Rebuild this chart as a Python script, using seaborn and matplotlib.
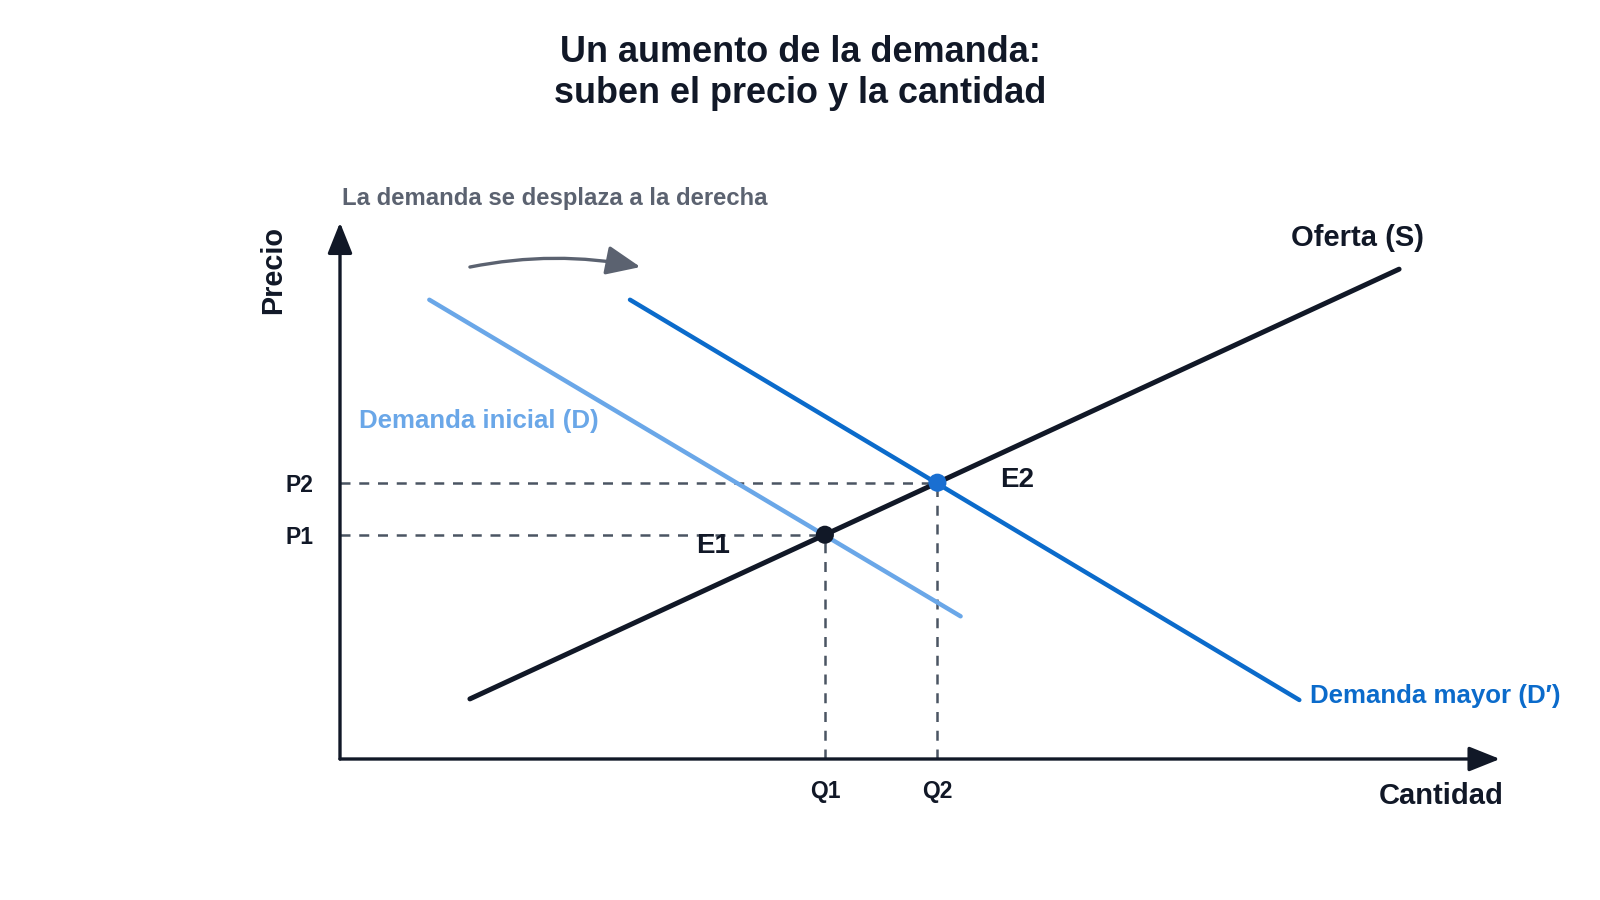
import matplotlib
matplotlib.use("Agg")
import matplotlib.pyplot as plt
import numpy as np
import pandas as pd
import seaborn as sns

# ---- data ----
title_text = "Un aumento de la demanda:\nsuben el precio y la cantidad"
shift_text = "La demanda se desplaza a la derecha"

supply_q = [1.12, 9.13]
supply_p = [1.12, 9.13]
demand_q = [0.77, 5.35]
demand_p = [8.56, 2.66]
demand2_q = [2.50, 8.27]
demand2_p = [8.56, 1.10]

eq_labels = ["E1", "E2"]
eq_q = [4.18, 5.15]
eq_p = [4.18, 5.15]
price_labels = ["P1", "P2"]
qty_labels = ["Q1", "Q2"]

# ---- style ----
sns.set_theme(style="white")
plt.rcParams["font.family"] = ["Liberation Sans", "DejaVu Sans"]
plt.rcParams["font.weight"] = "bold"

DARK = "#111827"
GRAY = "#5b6270"
DASH = "#4b5563"
LIGHT = "#6aa7e8"
BLUE = "#0b6bcb"
PT_BLUE = "#1a6fd1"

fig = plt.figure(figsize=(16, 9), dpi=100)
ax = fig.add_axes([340 / 1600, 141 / 900, 1160 / 1600, 536.5 / 900])
ax.set_xlim(0, 10)
ax.set_ylim(0, 10)
for s in ax.spines.values():
    s.set_visible(False)
ax.grid(False)

df_s = pd.DataFrame({"Cantidad": supply_q, "Precio": supply_p})
df_d = pd.DataFrame({"Cantidad": demand_q, "Precio": demand_p})
df_d2 = pd.DataFrame({"Cantidad": demand2_q, "Precio": demand2_p})

# dashed guides
for q, p in zip(eq_q, eq_p):
    ax.plot([0, q], [p, p], color=DASH, lw=1.8, ls=(0, (4, 3.5)), zorder=1)
    ax.plot([q, q], [0, p], color=DASH, lw=1.8, ls=(0, (4, 3.5)), zorder=1)

sns.lineplot(data=df_d, x="Cantidad", y="Precio", ax=ax, color=LIGHT, lw=3.2,
             sort=False, zorder=2)
sns.lineplot(data=df_d2, x="Cantidad", y="Precio", ax=ax, color=BLUE, lw=3.2,
             sort=False, zorder=2)
sns.lineplot(data=df_s, x="Cantidad", y="Precio", ax=ax, color=DARK, lw=3.6,
             sort=False, zorder=3)

df_e = pd.DataFrame({"Cantidad": eq_q, "Precio": eq_p, "E": eq_labels})
sns.scatterplot(data=df_e, x="Cantidad", y="Precio", hue="E",
                palette={"E1": DARK, "E2": PT_BLUE}, s=170, edgecolor="none",
                legend=False, ax=ax, zorder=5, clip_on=False)

ax.set_xlabel("")
ax.set_ylabel("")

# axis arrows
arrow_kw = dict(arrowstyle="-|>,head_length=0.95,head_width=0.38", color=DARK,
                lw=2.4, shrinkA=0, shrinkB=0, mutation_scale=20)
ax.annotate("", xy=(10, 0), xytext=(0, 0), arrowprops=arrow_kw,
            annotation_clip=False, zorder=4)
ax.annotate("", xy=(0, 10), xytext=(0, 0), arrowprops=arrow_kw,
            annotation_clip=False, zorder=4)

# ticks
ax.set_xticks(eq_q, labels=qty_labels)
ax.set_yticks(eq_p, labels=price_labels)
ax.tick_params(axis="x", length=0, pad=15, labelsize=16.5, labelcolor=DARK)
ax.tick_params(axis="y", length=0, pad=19, labelsize=16.5, labelcolor=DARK)
for lab in ax.get_xticklabels() + ax.get_yticklabels():
    lab.set_fontweight("bold")

# curved shift arrow
ax.annotate("", xy=(2.59, 9.17), xytext=(1.12, 9.17),
            arrowprops=dict(arrowstyle="-|>,head_length=1.05,head_width=0.45",
                            connectionstyle="arc3,rad=-0.1", color=GRAY, lw=2.4,
                            shrinkA=0, shrinkB=0, mutation_scale=20),
            annotation_clip=False)

# labels
ax.text(8.2, 9.71, "Oferta (S)", color=DARK, fontsize=21, fontweight="bold",
        ha="left", va="center")
ax.text(0.164, 6.3, "Demanda inicial (D)", color=LIGHT, fontsize=18.6,
        fontweight="bold", ha="left", va="center")
ax.text(8.36, 1.174, "Demanda mayor (D′)", color=BLUE, fontsize=18.6,
        fontweight="bold", ha="left", va="center")
ax.text(10.03, -0.69, "Cantidad", color=DARK, fontsize=21, fontweight="bold",
        ha="right", va="center", clip_on=False)
ax.text(eq_q[1] + 0.54, eq_p[1] + 0.05, eq_labels[1], color=DARK, fontsize=20,
        fontweight="bold", ha="left", va="center")
ax.text(eq_q[0] - 1.11, eq_p[0] - 0.21, eq_labels[0], color=DARK, fontsize=20,
        fontweight="bold", ha="left", va="center")

fig.text(273 / 1600, 1 - 270 / 900, "Precio", rotation=90, color=DARK,
         fontsize=20.7, fontweight="bold", ha="center", va="center")
fig.text(342 / 1600, 1 - 198 / 900, shift_text, color=GRAY, fontsize=17.2,
         fontweight="bold", ha="left", va="center")
fig.text(0.5, 1 - 73 / 900, title_text, color=DARK, fontsize=25.9,
         fontweight="bold", ha="center", va="center", multialignment="center",
         linespacing=1.25)

fig.savefig("out.png", dpi=100, facecolor="white")
